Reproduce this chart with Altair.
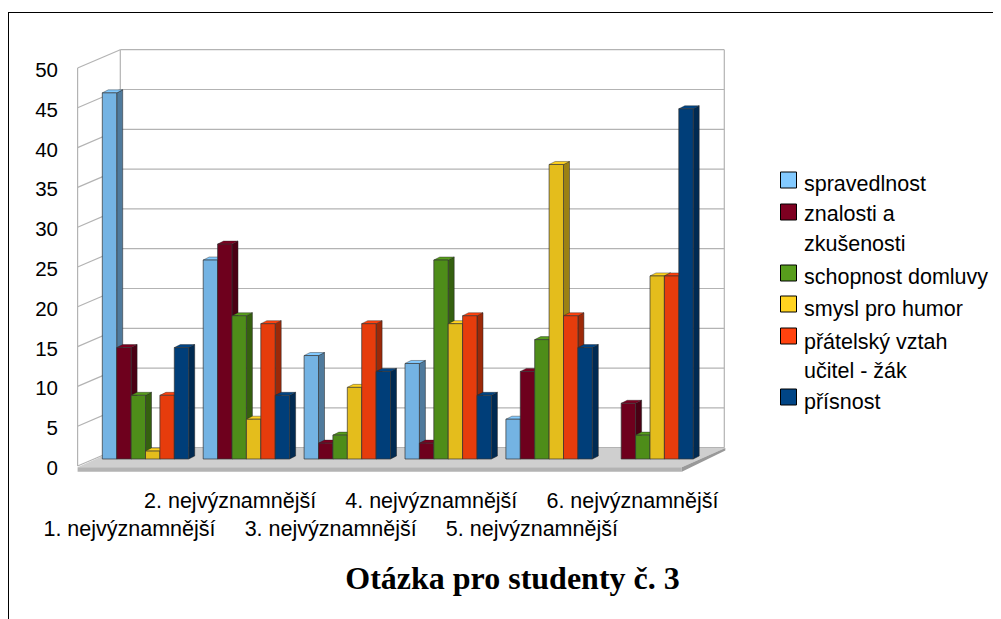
import altair as alt
import pandas as pd

categories = ["1. nejvýznamnější", "2. nejvýznamnější", "3. nejvýznamnější",
              "4. nejvýznamnější", "5. nejvýznamnější", "6. nejvýznamnější"]
series = ["spravedlnost", "znalosti a zkušenosti", "schopnost domluvy",
          "smysl pro humor", "přátelský vztah učitel - žák", "přísnost"]
spravedlnost = [46, 25, 13, 12, 5, 0]
znalosti = [14, 27, 2, 2, 11, 7]
schopnost = [8, 18, 3, 25, 15, 3]
humor = [1, 5, 9, 17, 37, 23]
vztah = [8, 17, 17, 18, 18, 23]
prisnost = [14, 8, 11, 8, 14, 44]
y_ticks = [0, 5, 10, 15, 20, 25, 30, 35, 40, 45, 50]
legend_lines = [["spravedlnost"], ["znalosti a", "zkušenosti"], ["schopnost domluvy"],
                ["smysl pro humor"], ["přátelský vztah", "učitel - žák"], ["přísnost"]]
front_colors = ["#74b3e3", "#6e001d", "#4e8d19", "#e4bd1c", "#e63c0c", "#003e79"]
side_colors = ["#4f7a9c", "#4a0014", "#35600f", "#9c8113", "#9d2908", "#002a52"]
top_colors = ["#83caff", "#7e0021", "#579d1c", "#ffd320", "#ff420e", "#004586"]

all_values = [spravedlnost, znalosti, schopnost, humor, vztah, prisnost]

W, H = 985, 611
GROUP = 100.9
UNIT = 7.96
def X(px): return (px - 102.3) / GROUP
def Y(py): return (459.0 - py) / UNIT

BW = 14.4 / GROUP
DX = 6.0 / GROUP
DY = 3.0 / UNIT

xs = alt.Scale(domain=[X(8), X(8 + W)], nice=False, zero=False)
ys = alt.Scale(domain=[Y(8 + H), Y(8)], nice=False, zero=False)
def ex(f="x"): return alt.X(f"{f}:Q", scale=xs, axis=None)
def ey(f="y"): return alt.Y(f"{f}:Q", scale=ys, axis=None)

front, side, top = [], [], []
for j, (s, vals) in enumerate(zip(series, all_values)):
    for i, v in enumerate(vals):
        if v == 0:
            continue
        l = i + j * BW
        r = l + BW
        bid = f"{i}-{j}"
        front.append(dict(s=s, x=l, x1=r, y=v, y0=0))
        side += [dict(s=s, id=bid, x=r, y=v, y0=0),
                 dict(s=s, id=bid, x=r + DX, y=v + DY, y0=DY)]
        top += [dict(s=s, id=bid, y=v, x=l, x1=r),
                dict(s=s, id=bid, y=v + DY, x=l + DX, x1=r + DX)]

# walls and floor
FL, BL, BR, FR = 77.6, 120.3, 724.3, 681.8
F0, B0 = 466.0, 447.7
STEP = 39.8
grid = []
for t in y_ticks:
    yb = B0 - t / 5 * STEP
    yf = F0 - t / 5 * STEP
    grid += [dict(id=f"d{t}", x=X(FL), y=Y(yf)), dict(id=f"d{t}", x=X(BL), y=Y(yb)),
             dict(id=f"b{t}", x=X(BL), y=Y(yb)), dict(id=f"b{t}", x=X(BR), y=Y(yb))]
top_back = B0 - 10 * STEP
top_front = F0 - 10 * STEP
grid += [dict(id="vf", x=X(FL), y=Y(F0)), dict(id="vf", x=X(FL), y=Y(top_front)),
         dict(id="vb", x=X(BL), y=Y(B0)), dict(id="vb", x=X(BL), y=Y(top_back)),
         dict(id="vr", x=X(BR), y=Y(B0)), dict(id="vr", x=X(BR), y=Y(top_back))]

floor_top = pd.DataFrame([dict(y=Y(467.3), x=X(FL), x1=X(FR)),
                          dict(y=Y(448.0), x=X(BL), x1=X(BR + 1))])
floor_front = pd.DataFrame([dict(x=X(FL), x1=X(FR), y=Y(467.3), y0=Y(471.8))])
floor_side = pd.DataFrame([dict(x=X(FR), y=Y(467.3), y0=Y(471.8)),
                           dict(x=X(BR + 1), y=Y(448.0), y0=Y(450.5))])

layers = [
    alt.Chart(pd.DataFrame(grid)).mark_line(color="#b3b3b3", strokeWidth=1.2).encode(
        x=ex(), y=ey(), detail="id:N"),
    alt.Chart(floor_top).mark_area(orient="horizontal", color="#cfcfcf").encode(
        y=ey(), x=ex(), x2="x1:Q"),
    alt.Chart(floor_front).mark_rect(color="#b3b3b3").encode(
        x=ex(), x2="x1:Q", y=ey(), y2="y0:Q"),
    alt.Chart(floor_side).mark_area(color="#999999").encode(
        x=ex(), y=ey(), y2="y0:Q"),
]

cs = lambda rng: alt.Color("s:N", scale=alt.Scale(domain=series, range=rng), legend=None)
layers += [
    alt.Chart(pd.DataFrame(side)).mark_area(stroke="#222222", strokeWidth=0.5).encode(
        x=ex(), y=ey(), y2="y0:Q", detail="id:N", color=cs(side_colors)),
    alt.Chart(pd.DataFrame(top)).mark_area(orient="horizontal", stroke="#222222", strokeWidth=0.4).encode(
        y=ey(), x=ex(), x2="x1:Q", detail="id:N", color=cs(top_colors)),
    alt.Chart(pd.DataFrame(front)).mark_rect(stroke="#333333", strokeWidth=0.7).encode(
        x=ex(), x2="x1:Q", y=ey(), y2="y0:Q", color=cs(front_colors)),
]

# y tick labels
ytext = pd.DataFrame([dict(x=X(58), y=Y(F0 - t / 5 * STEP + 3), t=str(t)) for t in y_ticks])
layers.append(alt.Chart(ytext).mark_text(align="right", baseline="middle", font="Liberation Sans",
                                         fontSize=20.5, color="#000000").encode(
    x=ex(), y=ey(), text="t:N"))

# staggered category labels
ctext = []
for i, c in enumerate(categories):
    ctext.append(dict(x=X(129.5 + 100.6 * i), y=Y(530 if i % 2 == 0 else 501.5), t=c))
layers.append(alt.Chart(pd.DataFrame(ctext)).mark_text(align="center", baseline="middle",
                                                       font="Liberation Sans", fontSize=21.5,
                                                       color="#000000").encode(
    x=ex(), y=ey(), text="t:N"))

# title
layers.append(alt.Chart(pd.DataFrame([dict(x=X(512.5), y=Y(579), t="Otázka pro studenty č. 3")]))
              .mark_text(align="center", baseline="middle", font="Liberation Serif", fontWeight="bold",
                         fontSize=32, color="#000000").encode(x=ex(), y=ey(), text="t:N"))

# legend
swatch_tops = [172, 204, 265, 296, 328, 389]
line_centers = [[185], [215, 245], [278], [310], [343, 372], [403]]
swatches, ltext = [], []
for s, st, lines, cen in zip(series, swatch_tops, legend_lines, line_centers):
    swatches.append(dict(s=s, x=X(780.5), x1=X(796.5), y=Y(st), y0=Y(st + 16)))
    for ln, c in zip(lines, cen):
        ltext.append(dict(x=X(804), y=Y(c), t=ln))
layers.append(alt.Chart(pd.DataFrame(swatches)).mark_rect(stroke="#000000", strokeWidth=1).encode(
    x=ex(), x2="x1:Q", y=ey(), y2="y0:Q", color=cs(top_colors)))
layers.append(alt.Chart(pd.DataFrame(ltext)).mark_text(align="left", baseline="middle",
                                                       font="Liberation Sans", fontSize=21.5,
                                                       color="#000000").encode(
    x=ex(), y=ey(), text="t:N"))

# outer frame
layers.append(alt.Chart(pd.DataFrame({"a": [0]})).mark_rule(color="#000000", strokeWidth=1).encode(
    x=alt.value(0), x2=alt.value(W), y=alt.value(4.5)))
layers.append(alt.Chart(pd.DataFrame({"a": [0]})).mark_rule(color="#000000", strokeWidth=1).encode(
    x=alt.value(0.5), y=alt.value(4), y2=alt.value(H)))

chart = alt.layer(*layers).resolve_scale(color="independent").properties(
    width=W, height=H, padding=0, autosize=alt.AutoSizeParams(type="none"),
    background="#ffffff"
).configure_view(stroke=None)

chart.save("out.html", embed_options={"renderer": "svg", "actions": False})
